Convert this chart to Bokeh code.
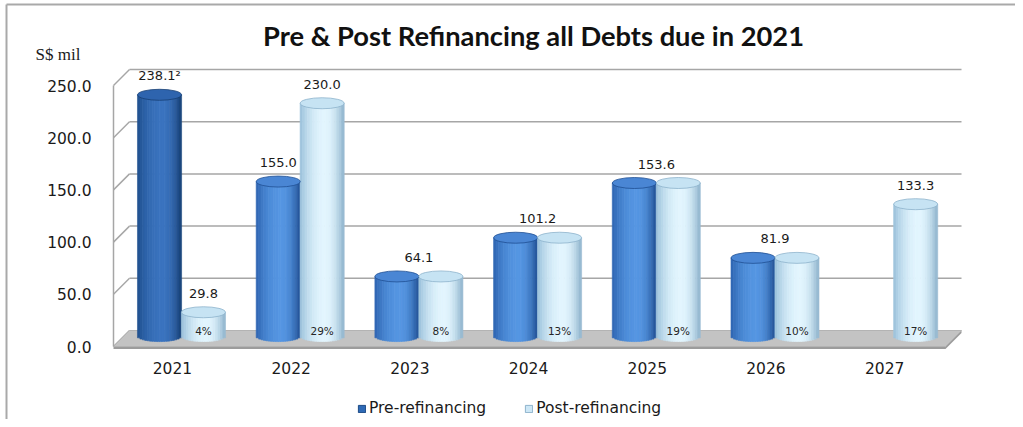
import math
from bokeh.plotting import figure
from bokeh.models import (ColumnDataSource, FixedTicker, PrintfTickFormatter, Legend,
                          LegendItem, Range1d)
from bokeh.core.properties import value
from bokeh.embed import file_html
from bokeh.resources import INLINE

# ---------------- data ----------------
years = ["2021", "2022", "2023", "2024", "2025", "2026", "2027"]
pre_refinancing = [238.1, 155.0, 64.1, 101.2, 153.6, 81.9, None]
post_refinancing = [29.8, 230.0, 64.1, 101.2, 153.6, 81.9, 133.3]
post_share = ["4%", "29%", "8%", "13%", "19%", "10%", "17%"]
y_ticks = [0, 50, 100, 150, 200, 250]
footnote_year = "2021"          # pre-refinancing label of this year carries footnote 2
title_text = "Pre & Post Refinancing all Debts due in 2021"
unit_text = "S$ mil"

# ---------------- geometry (style) ----------------
W, H = 1015, 419
PX0, PXS = 181.0, 118.7        # page px of first category, px per category
PY0, PYS = 346.0, 1.044        # page px of value 0, px per unit


def px2x(px):
    return (px - PX0) / PXS


def py2y(py):
    return (PY0 - py) / PYS


DX = 16.0 / PXS
DY = 16.0 / PYS
HALF = 0.185
OFF = 0.185
BASE = 10.0
TOP_ADD = 3.0
ELL_H = 11
SEMI = (ELL_H / 2.0) / PYS
N = 18
FONT = "DejaVu Sans"

p = figure(width=W, height=H, output_backend="svg", toolbar_location=None,
           x_range=Range1d(px2x(0), px2x(W)), y_range=Range1d(py2y(H), py2y(0)),
           min_border_left=0, min_border_right=0, min_border_top=0, min_border_bottom=0)
p.outline_line_color = None
p.grid.visible = False
p.background_fill_color = "white"
p.border_fill_color = "white"

# axes (fixed inside the frame)
xa = p.xaxis[0]
xa.fixed_location = py2y(352)
xa.ticker = FixedTicker(ticks=[i - 0.076 for i in range(len(years))])
xa.major_label_overrides = {i - 0.076: y for i, y in enumerate(years)}
xa.axis_line_color = None
xa.major_tick_line_color = None
xa.minor_tick_line_color = None
xa.major_tick_out = 0
xa.major_tick_in = 0
xa.major_label_text_font = FONT
xa.major_label_text_font_size = "15.5px"
xa.major_label_text_color = "#1a1a1a"
xa.major_label_standoff = 9

ya = p.yaxis[0]
ya.fixed_location = px2x(100)
ya.ticker = FixedTicker(ticks=y_ticks)
ya.formatter = PrintfTickFormatter(format="%.1f")
ya.axis_line_color = None
ya.major_tick_line_color = None
ya.minor_tick_line_color = None
ya.major_tick_out = 0
ya.major_tick_in = 0
ya.major_label_text_font = FONT
ya.major_label_text_font_size = "15.5px"
ya.major_label_text_color = "#1a1a1a"
ya.major_label_standoff = 9

# outer border (left and top visible in the reference)
p.segment(x0=[px2x(6), px2x(6)], x1=[px2x(6), px2x(W)], y0=[py2y(H), py2y(4)],
          y1=[py2y(4), py2y(4)], line_color="#a9a9a9", line_width=2)

# ---------------- 3D walls ----------------
xl = px2x(113)
xr = px2x(945)
grid_col = "#a6a6a6"
p.segment(x0=[xl + DX] * (len(y_ticks) - 1), x1=[xr + DX] * (len(y_ticks) - 1),
          y0=[g + DY for g in y_ticks[1:]], y1=[g + DY for g in y_ticks[1:]],
          line_color=grid_col, line_width=1.5)
p.segment(x0=[xl] * len(y_ticks), x1=[xl + DX] * len(y_ticks),
          y0=y_ticks, y1=[g + DY for g in y_ticks], line_color=grid_col, line_width=1.5)
p.segment(x0=[xl], x1=[xl], y0=[0], y1=[y_ticks[-1]], line_color=grid_col, line_width=1.5)
p.patch(x=[xl, xr, xr + DX, xr + DX, xr, xl], y=[0, 0, DY, DY - 2.5, -2.5, -2.5],
        fill_color="#9c9c9c", line_color=None)
p.patch(x=[xl, xr, xr + DX, xl + DX], y=[0, 0, DY, DY], fill_color="#c3c3c3",
        line_color="#b3b3b3", line_width=1)

# legend swatch renderers (zero-size, drawn underneath the first cylinder pair)
r_pre = p.vbar(x=[0], top=[100], bottom=[100], width=0.0, fill_color="#2e6ab6",
               line_color="#1c4a86")
r_post = p.vbar(x=[0], top=[100], bottom=[100], width=0.0, fill_color="#cde7f6",
                line_color="#8fb3cc")


def hex2rgb(h):
    h = h.lstrip("#")
    return [int(h[i:i + 2], 16) for i in (0, 2, 4)]


def mix(a, b, t):
    ca, cb = hex2rgb(a), hex2rgb(b)
    return "#%02x%02x%02x" % tuple(int(round(ca[i] + (cb[i] - ca[i]) * t)) for i in range(3))


def shade(u, left, center, right, c=0.15):
    if u < c:
        t = 1 - ((c - u) / (1 + c)) ** 2
        return mix(left, center, max(0.0, t))
    t = 1 - ((u - c) / (1 - c)) ** 2
    return mix(right, center, max(0.0, t))


PAL_PRE_HI = ("#1f4f8c", "#3a73bf", "#173f73", "#2e64ae")
PAL_PRE = ("#2d63b0", "#5596e2", "#204f93", "#4a86d4")
PAL_POST = ("#98bfda", "#e2f5fe", "#8db3cc", "#c6e3f3")

strips = dict(x=[], w=[], bottom=[], top=[], color=[])
tops = dict(x=[], y=[], fill=[], line=[])


def add_cyl(cx, v, pal):
    yt = v + TOP_ADD
    for k in range(N):
        u = -1 + (2 * k + 1) / N
        strips["x"].append(cx + u * HALF)
        strips["w"].append(2 * HALF / N * 1.08)
        strips["bottom"].append(BASE - SEMI * math.sqrt(max(0.0, 1 - u * u)))
        strips["top"].append(yt)
        strips["color"].append(shade(u, pal[0], pal[1], pal[2]))
    tops["x"].append(cx)
    tops["y"].append(yt)
    tops["fill"].append(pal[3])
    tops["line"].append(pal[2])


for i, yr in enumerate(years):
    if pre_refinancing[i] is not None:
        add_cyl(i - OFF, pre_refinancing[i], PAL_PRE_HI if yr == footnote_year else PAL_PRE)
    if post_refinancing[i] is not None:
        add_cyl(i + OFF, post_refinancing[i], PAL_POST)

p.vbar(x="x", width="w", bottom="bottom", top="top", fill_color="color", line_color="color",
       line_width=0.6, source=ColumnDataSource(strips))
p.ellipse(x="x", y="y", width=2 * HALF, height=ELL_H, height_units="screen",
          fill_color="fill", line_color="line", line_width=0.8, source=ColumnDataSource(tops))

# ---------------- labels ----------------
lab = dict(x=[], y=[], t=[])
for i, yr in enumerate(years):
    a, b = pre_refinancing[i], post_refinancing[i]
    if a is not None and b is not None and abs(a - b) < 1e-9:
        lab["x"].append(i); lab["y"].append(a + TOP_ADD); lab["t"].append("%.1f" % a)
        continue
    if a is not None:
        lab["x"].append(i - OFF); lab["y"].append(a + TOP_ADD)
        lab["t"].append("%.1f" % a + ("\u00b2" if yr == footnote_year else ""))
    if b is not None:
        lab["x"].append(i + OFF); lab["y"].append(b + TOP_ADD); lab["t"].append("%.1f" % b)
p.text(x="x", y="y", text="t", source=ColumnDataSource(lab), text_align="center",
       text_baseline="middle", y_offset=-19, text_font=value(FONT),
       text_font_size="13px", text_color="#1a1a1a")

p.text(x=[i + OFF for i in range(len(years))], y=[py2y(330)] * len(years), text=post_share,
       text_align="center", text_baseline="middle", text_font=value(FONT),
       text_font_size="10.5px", text_color="#262626")

# title and unit
p.text(x=[px2x(533)], y=[py2y(35)], text=[title_text], text_align="center",
       text_baseline="middle", text_font=value("Lato"), text_font_style="bold",
       text_font_size="27.3px", text_color="#111111")
p.text(x=[px2x(35)], y=[py2y(54)], text=[unit_text], text_align="left",
       text_baseline="middle", text_font=value("Liberation Serif"),
       text_font_size="17px", text_color="#1a1a1a")

# ---------------- legend ----------------
legend = Legend(items=[LegendItem(label="Pre-refinancing", renderers=[r_pre]),
                       LegendItem(label="Post-refinancing", renderers=[r_post])],
                orientation="horizontal", location=(357, 2), glyph_width=9, glyph_height=9,
                label_text_font=FONT, label_text_font_size="15.5px",
                label_text_color="#1a1a1a", spacing=38, padding=0, margin=0,
                label_standoff=3, border_line_color=None, background_fill_alpha=0)
p.add_layout(legend)

open("out.html", "w").write(file_html(p, INLINE))
